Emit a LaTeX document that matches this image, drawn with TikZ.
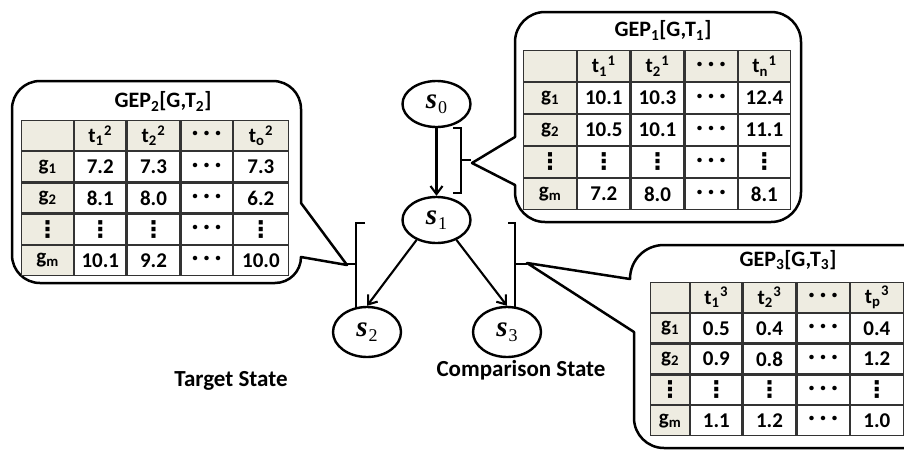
\documentclass[tikz,border=0pt]{standalone}
\usepackage{amsmath}
\usepackage[no-math]{fontspec}
\setmainfont{Carlito}
\newfontfamily\dvfont{DejaVu Sans}
\newfontfamily\lsfont{Liberation Serif}
\usetikzlibrary{shapes.geometric,arrows.meta,matrix}
\definecolor{tanbg}{HTML}{EEECE1}
\definecolor{tabline}{HTML}{333333}
\newcommand\tcell[2]{t\textsubscript{#1}\kern0.5pt\textsuperscript{#2}}
\newcommand\gcell[1]{g\textsubscript{#1}}
\newcommand\hdts{\raisebox{3.5pt}{\fontsize{30}{30}\selectfont .\hspace{3.5pt}.\hspace{3.5pt}.}}
\newcommand\vdts{\raisebox{-1pt}{\dvfont\fontsize{23}{23}\selectfont ⋮}}
\newcommand\sname[1]{{\lsfont\bfseries\itshape s}\kern1pt\raisebox{-5pt}{\lsfont\fontsize{18}{18}\selectfont #1}}
\newcommand\cellfont{\fontsize{21}{24}\selectfont\bfseries}
\tikzset{
  gtab/.style={matrix of nodes, nodes in empty cells, inner sep=0pt, outer sep=0pt,
    anchor=north west, column sep=0pt, row sep=0pt,
    nodes={draw=tabline, line width=1.2pt, fill=white, minimum height=#1,
      minimum width=52pt, inner sep=0pt, outer sep=0pt, anchor=center, font=\cellfont},
    row 1/.style={nodes={fill=tanbg}}},
  cw/.style n args={5}{column 1/.style={nodes={fill=tanbg,minimum width=#1}},
    column 2/.style={nodes={minimum width=#2}},
    column 3/.style={nodes={minimum width=#3}},
    column 4/.style={nodes={minimum width=#4}},
    column 5/.style={nodes={minimum width=#5}}},
  callout/.style={draw=black, line width=2.5pt, fill=white, line join=round},
  stnode/.style={ellipse, draw=black, line width=2.4pt, minimum width=68pt,
    minimum height=46pt, inner sep=0pt, font=\fontsize{29}{30}\selectfont},
  arr/.style={-{Straight Barb[length=8pt,width=12pt,line width=2.1pt]}, line width=2.1pt},
  brk/.style={draw=black, line width=2.4pt},
  ttl/.style={font=\fontsize{22}{24}\selectfont\bfseries, inner sep=0pt},
  lbl/.style={font=\fontsize{23}{24}\selectfont\bfseries, inner sep=0pt}
}
\begin{document}
\begin{tikzpicture}[x=1pt,y=-1pt]
\useasboundingbox (0,0) rectangle (904,450);
\fill[white] (0,0) rectangle (904,450);

% callout GEP2
\path[callout] (40,81) -- (273,81) .. controls (288.5,81) and (301,93.5) .. (301,109)
  -- (301,203) -- (347,265) -- (301,257)
  .. controls (301,271.4) and (289.4,283) .. (275,283)
  -- (40,283) .. controls (24.5,283) and (12,270.5) .. (12,255)
  -- (12,109) .. controls (12,93.5) and (24.5,81) .. (40,81) -- cycle;
% callout GEP1
\path[callout] (545,12) -- (771,12) .. controls (787.6,12) and (801,25.4) .. (801,42)
  -- (801,192) .. controls (801,208.6) and (787.6,222) .. (771,222)
  -- (545,222) .. controls (528.4,222) and (515,208.6) .. (515,192)
  -- (515,185) -- (472,163) -- (515,137)
  -- (515,42) .. controls (515,25.4) and (528.4,12) .. (545,12) -- cycle;
% callout GEP3
\path[callout] (664,245) -- (915,245) -- (915,448)
  -- (664,448) .. controls (647.4,448) and (634,434.6) .. (634,418)
  -- (634,332) -- (527,263) -- (630,279)
  .. controls (630,260) and (645,245) .. (664,245) -- cycle;

% titles
\node[ttl] (ti2) at (163,101.5) {GEP\textsubscript{2}[G,T\textsubscript{2}]};
\node[ttl] (ti1) at (663,30.5) {GEP\textsubscript{1}[G,T\textsubscript{1}]};
\node[ttl] (ti3) at (788,260) {GEP\textsubscript{3}[G,T\textsubscript{3}]};

% tables
\matrix[gtab=30pt, cw={52pt}{51pt}{53pt}{51pt}{55pt}] (m2) at (21,120) {
  & \tcell{1}{2} & \tcell{2}{2} & \hdts & \tcell{o}{2} \\
  \gcell{1} & 7.2 & 7.3 & \hdts & 7.3 \\
  \gcell{2} & 8.1 & 8.0 & \hdts & 6.2 \\
  \vdts & \vdts & \vdts & \hdts & \vdts \\
  \gcell{m} & 10.1 & 9.2 & \hdts & 10.0 \\
};
\matrix[gtab=30.8pt, cw={53pt}{52pt}{53pt}{52pt}{52pt}] (m1) at (523,50) {
  & \tcell{1}{1} & \tcell{2}{1} & \hdts & \tcell{n}{1} \\
  \gcell{1} & 10.1 & 10.3 & \hdts & 12.4 \\
  \gcell{2} & 10.5 & 10.1 & \hdts & 11.1 \\
  \vdts & \vdts & \vdts & \hdts & \vdts \\
  \gcell{m} & 7.2 & 8.0 & \hdts & 8.1 \\
};
\matrix[gtab=29.6pt, cw={39pt}{51pt}{53pt}{52pt}{53pt}] (m3) at (650,282) {
  & \tcell{1}{3} & \tcell{2}{3} & \hdts & \tcell{p}{3} \\
  \gcell{1} & 0.5 & 0.4 & \hdts & 0.4 \\
  \gcell{2} & 0.9 & 0.8 & \hdts & 1.2 \\
  \vdts & \vdts & \vdts & \hdts & \vdts \\
  \gcell{m} & 1.1 & 1.2 & \hdts & 1.0 \\
};

% states
\node[stnode] (s0) at (436.5,104) {\sname{0}};
\node[stnode] (s1) at (436.5,220) {\sname{1}};
\node[stnode, minimum height=50pt] (s2) at (367,332) {\sname{2}};
\node[stnode, minimum height=50pt] (s3) at (507,332) {\sname{3}};

\draw[arr] (s0.south) -- (s1.north);
\draw[arr] (s1.225) -- (s2.north);
\draw[arr] (s1.315) -- (s3.north);

% brackets
\draw[brk] (453,128) -- (461,128) -- (461,193) -- (453,193);
\draw[brk] (461,160) -- (471,160);
\draw[brk] (365,223) -- (356,223) -- (356,308);
\draw[brk] (356,264) -- (347,264);
\draw[brk] (508,223) -- (515,223) -- (515,308);
\draw[brk] (515,264) -- (527,264);

% labels
\node[lbl] (tgt) at (231,381) {Target State};
\node[lbl] (cmp) at (521,370) {Comparison State};
\end{tikzpicture}
\end{document}
